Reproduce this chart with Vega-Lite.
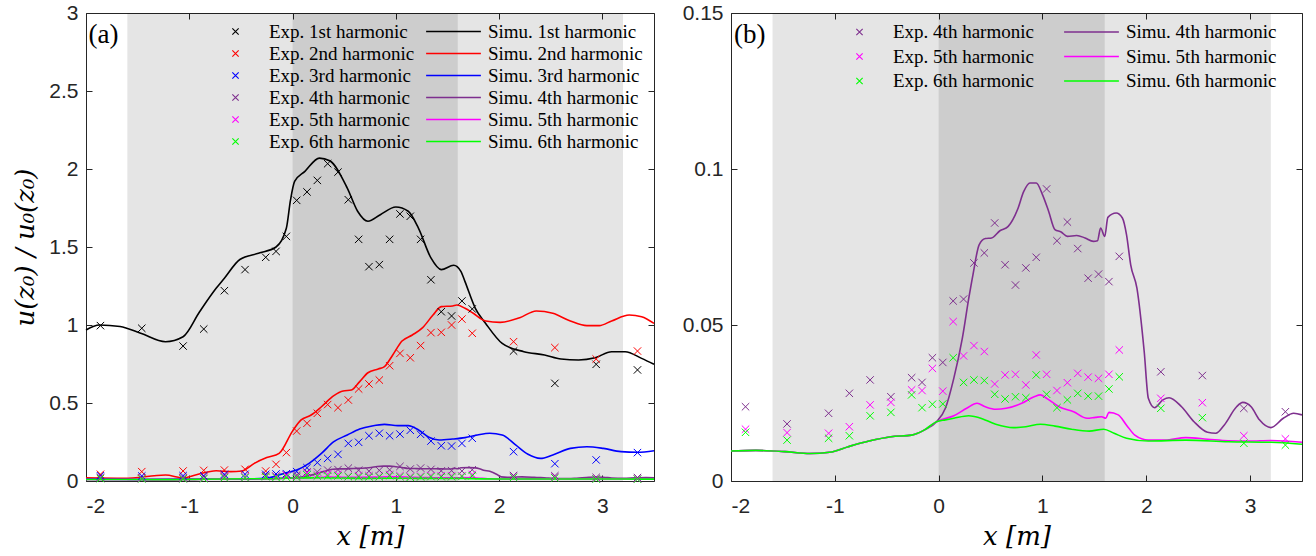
{
"$schema":"https://vega.github.io/schema/vega-lite/v6.json",
"padding":{"left":12,"top":1,"right":5,"bottom":0},
"background":"white",
"spacing":23,
"datasets":{
"exp":[
{"h":"1st","x":-1.86,"y":0.996},{"h":"1st","x":-1.46,"y":0.979},{"h":"1st","x":-1.06,"y":0.865},{"h":"1st","x":-0.86,"y":0.974},{"h":"1st","x":-0.66,"y":1.22},{"h":"1st","x":-0.46,"y":1.355},{"h":"1st","x":-0.26,"y":1.434},{"h":"1st","x":-0.16,"y":1.472},{"h":"1st","x":-0.06,"y":1.568},{"h":"1st","x":0.04,"y":1.799},{"h":"1st","x":0.14,"y":1.853},{"h":"1st","x":0.24,"y":1.927},{"h":"1st","x":0.34,"y":2.034},{"h":"1st","x":0.44,"y":1.98},{"h":"1st","x":0.54,"y":1.803},{"h":"1st","x":0.64,"y":1.549},{"h":"1st","x":0.74,"y":1.374},{"h":"1st","x":0.84,"y":1.387},{"h":"1st","x":0.94,"y":1.549},{"h":"1st","x":1.04,"y":1.712},{"h":"1st","x":1.14,"y":1.697},{"h":"1st","x":1.24,"y":1.549},{"h":"1st","x":1.34,"y":1.29},{"h":"1st","x":1.44,"y":1.085},{"h":"1st","x":1.54,"y":1.058},{"h":"1st","x":1.64,"y":1.154},{"h":"1st","x":1.74,"y":1.103},{"h":"1st","x":2.14,"y":0.833},{"h":"1st","x":2.54,"y":0.626},{"h":"1st","x":2.94,"y":0.748},{"h":"1st","x":3.34,"y":0.712},
{"h":"2nd","x":-1.86,"y":0.043},{"h":"2nd","x":-1.46,"y":0.06},{"h":"2nd","x":-1.06,"y":0.064},{"h":"2nd","x":-0.86,"y":0.068},{"h":"2nd","x":-0.66,"y":0.07},{"h":"2nd","x":-0.46,"y":0.075},{"h":"2nd","x":-0.26,"y":0.064},{"h":"2nd","x":-0.16,"y":0.107},{"h":"2nd","x":-0.06,"y":0.182},{"h":"2nd","x":0.04,"y":0.32},{"h":"2nd","x":0.14,"y":0.37},{"h":"2nd","x":0.24,"y":0.434},{"h":"2nd","x":0.34,"y":0.49},{"h":"2nd","x":0.44,"y":0.47},{"h":"2nd","x":0.54,"y":0.519},{"h":"2nd","x":0.64,"y":0.59},{"h":"2nd","x":0.74,"y":0.622},{"h":"2nd","x":0.84,"y":0.647},{"h":"2nd","x":0.94,"y":0.739},{"h":"2nd","x":1.04,"y":0.818},{"h":"2nd","x":1.14,"y":0.79},{"h":"2nd","x":1.24,"y":0.868},{"h":"2nd","x":1.34,"y":0.951},{"h":"2nd","x":1.44,"y":0.953},{"h":"2nd","x":1.54,"y":1.0},{"h":"2nd","x":1.64,"y":1.038},{"h":"2nd","x":1.74,"y":0.947},{"h":"2nd","x":2.14,"y":0.893},{"h":"2nd","x":2.54,"y":0.855},{"h":"2nd","x":2.94,"y":0.782},{"h":"2nd","x":3.34,"y":0.833},
{"h":"3rd","x":-1.86,"y":0.034},{"h":"3rd","x":-1.46,"y":0.032},{"h":"3rd","x":-1.06,"y":0.034},{"h":"3rd","x":-0.86,"y":0.034},{"h":"3rd","x":-0.66,"y":0.043},{"h":"3rd","x":-0.46,"y":0.043},{"h":"3rd","x":-0.26,"y":0.043},{"h":"3rd","x":-0.16,"y":0.045},{"h":"3rd","x":-0.06,"y":0.047},{"h":"3rd","x":0.04,"y":0.06},{"h":"3rd","x":0.14,"y":0.085},{"h":"3rd","x":0.24,"y":0.118},{"h":"3rd","x":0.34,"y":0.145},{"h":"3rd","x":0.44,"y":0.171},{"h":"3rd","x":0.54,"y":0.241},{"h":"3rd","x":0.64,"y":0.248},{"h":"3rd","x":0.74,"y":0.29},{"h":"3rd","x":0.84,"y":0.306},{"h":"3rd","x":0.94,"y":0.29},{"h":"3rd","x":1.04,"y":0.301},{"h":"3rd","x":1.14,"y":0.325},{"h":"3rd","x":1.24,"y":0.299},{"h":"3rd","x":1.34,"y":0.256},{"h":"3rd","x":1.44,"y":0.226},{"h":"3rd","x":1.54,"y":0.224},{"h":"3rd","x":1.64,"y":0.241},{"h":"3rd","x":1.74,"y":0.274},{"h":"3rd","x":2.14,"y":0.188},{"h":"3rd","x":2.54,"y":0.111},{"h":"3rd","x":2.94,"y":0.135},{"h":"3rd","x":3.34,"y":0.182},
{"h":"4th","x":-1.86,"y":0.0238},{"h":"4th","x":-1.46,"y":0.0183},{"h":"4th","x":-1.06,"y":0.0217},{"h":"4th","x":-0.86,"y":0.0281},{"h":"4th","x":-0.66,"y":0.0324},{"h":"4th","x":-0.46,"y":0.027},{"h":"4th","x":-0.26,"y":0.0331},{"h":"4th","x":-0.16,"y":0.0316},{"h":"4th","x":-0.06,"y":0.0395},{"h":"4th","x":0.04,"y":0.038},{"h":"4th","x":0.14,"y":0.0577},{"h":"4th","x":0.24,"y":0.0583},{"h":"4th","x":0.34,"y":0.0699},{"h":"4th","x":0.44,"y":0.0731},{"h":"4th","x":0.54,"y":0.0827},{"h":"4th","x":0.64,"y":0.0693},{"h":"4th","x":0.74,"y":0.0628},{"h":"4th","x":0.84,"y":0.0683},{"h":"4th","x":0.94,"y":0.0717},{"h":"4th","x":1.04,"y":0.0936},{"h":"4th","x":1.14,"y":0.077},{"h":"4th","x":1.24,"y":0.083},{"h":"4th","x":1.34,"y":0.0745},{"h":"4th","x":1.44,"y":0.065},{"h":"4th","x":1.54,"y":0.0663},{"h":"4th","x":1.64,"y":0.0639},{"h":"4th","x":1.74,"y":0.072},{"h":"4th","x":2.14,"y":0.035},{"h":"4th","x":2.54,"y":0.0338},{"h":"4th","x":2.94,"y":0.0233},{"h":"4th","x":3.34,"y":0.0222},
{"h":"5th","x":-1.86,"y":0.0166},{"h":"5th","x":-1.46,"y":0.0155},{"h":"5th","x":-1.06,"y":0.0153},{"h":"5th","x":-0.86,"y":0.0174},{"h":"5th","x":-0.66,"y":0.0244},{"h":"5th","x":-0.46,"y":0.0252},{"h":"5th","x":-0.26,"y":0.0292},{"h":"5th","x":-0.16,"y":0.029},{"h":"5th","x":-0.06,"y":0.0361},{"h":"5th","x":0.04,"y":0.0288},{"h":"5th","x":0.14,"y":0.0511},{"h":"5th","x":0.24,"y":0.0401},{"h":"5th","x":0.34,"y":0.0434},{"h":"5th","x":0.44,"y":0.0415},{"h":"5th","x":0.54,"y":0.0311},{"h":"5th","x":0.64,"y":0.034},{"h":"5th","x":0.74,"y":0.0342},{"h":"5th","x":0.84,"y":0.0308},{"h":"5th","x":0.94,"y":0.0404},{"h":"5th","x":1.04,"y":0.0342},{"h":"5th","x":1.14,"y":0.029},{"h":"5th","x":1.24,"y":0.0315},{"h":"5th","x":1.34,"y":0.0345},{"h":"5th","x":1.44,"y":0.0333},{"h":"5th","x":1.54,"y":0.0329},{"h":"5th","x":1.64,"y":0.0342},{"h":"5th","x":1.74,"y":0.042},{"h":"5th","x":2.14,"y":0.0265},{"h":"5th","x":2.54,"y":0.0251},{"h":"5th","x":2.94,"y":0.0145},{"h":"5th","x":3.34,"y":0.0135},
{"h":"6th","x":-1.86,"y":0.0156},{"h":"6th","x":-1.46,"y":0.0131},{"h":"6th","x":-1.06,"y":0.0137},{"h":"6th","x":-0.86,"y":0.0145},{"h":"6th","x":-0.66,"y":0.0209},{"h":"6th","x":-0.46,"y":0.022},{"h":"6th","x":-0.26,"y":0.0276},{"h":"6th","x":-0.16,"y":0.0235},{"h":"6th","x":-0.06,"y":0.0246},{"h":"6th","x":0.04,"y":0.0247},{"h":"6th","x":0.14,"y":0.0395},{"h":"6th","x":0.24,"y":0.0316},{"h":"6th","x":0.34,"y":0.0324},{"h":"6th","x":0.44,"y":0.0322},{"h":"6th","x":0.54,"y":0.0278},{"h":"6th","x":0.64,"y":0.0263},{"h":"6th","x":0.74,"y":0.027},{"h":"6th","x":0.84,"y":0.0267},{"h":"6th","x":0.94,"y":0.034},{"h":"6th","x":1.04,"y":0.0278},{"h":"6th","x":1.14,"y":0.0235},{"h":"6th","x":1.24,"y":0.026},{"h":"6th","x":1.34,"y":0.0281},{"h":"6th","x":1.44,"y":0.0272},{"h":"6th","x":1.54,"y":0.0272},{"h":"6th","x":1.64,"y":0.0295},{"h":"6th","x":1.74,"y":0.0334},{"h":"6th","x":2.14,"y":0.0233},{"h":"6th","x":2.54,"y":0.0203},{"h":"6th","x":2.94,"y":0.0121},{"h":"6th","x":3.34,"y":0.0115}
],
"sim":[
{"h":"1st","x":-2,"y":0.968},{"h":"1st","x":-1.87,"y":1.0},{"h":"1st","x":-1.67,"y":0.99},{"h":"1st","x":-1.47,"y":0.947},{"h":"1st","x":-1.23,"y":0.893},{"h":"1st","x":-1.06,"y":0.925},{"h":"1st","x":-0.9,"y":1.085},{"h":"1st","x":-0.74,"y":1.235},{"h":"1st","x":-0.66,"y":1.3},{"h":"1st","x":-0.51,"y":1.42},{"h":"1st","x":-0.33,"y":1.46},{"h":"1st","x":-0.16,"y":1.5},{"h":"1st","x":-0.06,"y":1.62},{"h":"1st","x":-0.02,"y":1.8},{"h":"1st","x":0.02,"y":1.92},{"h":"1st","x":0.12,"y":1.985},{"h":"1st","x":0.26,"y":2.07},{"h":"1st","x":0.36,"y":2.053},{"h":"1st","x":0.53,"y":1.878},{"h":"1st","x":0.63,"y":1.729},{"h":"1st","x":0.73,"y":1.665},{"h":"1st","x":0.85,"y":1.707},{"h":"1st","x":1.0,"y":1.756},{"h":"1st","x":1.12,"y":1.729},{"h":"1st","x":1.22,"y":1.62},{"h":"1st","x":1.34,"y":1.43},{"h":"1st","x":1.44,"y":1.355},{"h":"1st","x":1.56,"y":1.383},{"h":"1st","x":1.63,"y":1.344},{"h":"1st","x":1.67,"y":1.278},{"h":"1st","x":1.77,"y":1.107},{"h":"1st","x":1.87,"y":1.01},{"h":"1st","x":2.03,"y":0.882},{"h":"1st","x":2.24,"y":0.829},{"h":"1st","x":2.44,"y":0.808},{"h":"1st","x":2.6,"y":0.782},{"h":"1st","x":2.77,"y":0.776},{"h":"1st","x":2.93,"y":0.79},{"h":"1st","x":3.09,"y":0.829},{"h":"1st","x":3.22,"y":0.829},{"h":"1st","x":3.38,"y":0.786},{"h":"1st","x":3.5,"y":0.748},
{"h":"2nd","x":-2,"y":0.02},{"h":"2nd","x":-1.63,"y":0.017},{"h":"2nd","x":-1.23,"y":0.038},{"h":"2nd","x":-1.06,"y":0.02},{"h":"2nd","x":-0.94,"y":0.038},{"h":"2nd","x":-0.74,"y":0.066},{"h":"2nd","x":-0.6,"y":0.06},{"h":"2nd","x":-0.49,"y":0.064},{"h":"2nd","x":-0.37,"y":0.113},{"h":"2nd","x":-0.25,"y":0.15},{"h":"2nd","x":-0.13,"y":0.177},{"h":"2nd","x":0.0,"y":0.32},{"h":"2nd","x":0.08,"y":0.39},{"h":"2nd","x":0.18,"y":0.423},{"h":"2nd","x":0.28,"y":0.476},{"h":"2nd","x":0.4,"y":0.547},{"h":"2nd","x":0.49,"y":0.577},{"h":"2nd","x":0.57,"y":0.583},{"h":"2nd","x":0.65,"y":0.637},{"h":"2nd","x":0.73,"y":0.694},{"h":"2nd","x":0.83,"y":0.718},{"h":"2nd","x":0.89,"y":0.733},{"h":"2nd","x":0.97,"y":0.808},{"h":"2nd","x":1.06,"y":0.897},{"h":"2nd","x":1.16,"y":0.936},{"h":"2nd","x":1.26,"y":0.983},{"h":"2nd","x":1.36,"y":1.064},{"h":"2nd","x":1.44,"y":1.118},{"h":"2nd","x":1.55,"y":1.122},{"h":"2nd","x":1.59,"y":1.128},{"h":"2nd","x":1.67,"y":1.107},{"h":"2nd","x":1.75,"y":1.075},{"h":"2nd","x":1.87,"y":1.026},{"h":"2nd","x":2.01,"y":1.017},{"h":"2nd","x":2.2,"y":1.047},{"h":"2nd","x":2.36,"y":1.09},{"h":"2nd","x":2.52,"y":1.075},{"h":"2nd","x":2.69,"y":1.026},{"h":"2nd","x":2.85,"y":0.996},{"h":"2nd","x":2.97,"y":0.996},{"h":"2nd","x":3.09,"y":1.026},{"h":"2nd","x":3.26,"y":1.064},{"h":"2nd","x":3.38,"y":1.053},{"h":"2nd","x":3.5,"y":1.01},
{"h":"3rd","x":-2,"y":0.012},{"h":"3rd","x":-1.5,"y":0.01},{"h":"3rd","x":-1.0,"y":0.012},{"h":"3rd","x":-0.5,"y":0.012},{"h":"3rd","x":-0.26,"y":0.017},{"h":"3rd","x":-0.08,"y":0.049},{"h":"3rd","x":0.04,"y":0.07},{"h":"3rd","x":0.16,"y":0.113},{"h":"3rd","x":0.28,"y":0.177},{"h":"3rd","x":0.4,"y":0.252},{"h":"3rd","x":0.53,"y":0.295},{"h":"3rd","x":0.65,"y":0.333},{"h":"3rd","x":0.77,"y":0.353},{"h":"3rd","x":0.89,"y":0.363},{"h":"3rd","x":1.02,"y":0.355},{"h":"3rd","x":1.12,"y":0.355},{"h":"3rd","x":1.22,"y":0.327},{"h":"3rd","x":1.32,"y":0.28},{"h":"3rd","x":1.42,"y":0.263},{"h":"3rd","x":1.55,"y":0.269},{"h":"3rd","x":1.67,"y":0.278},{"h":"3rd","x":1.79,"y":0.295},{"h":"3rd","x":1.91,"y":0.306},{"h":"3rd","x":2.03,"y":0.295},{"h":"3rd","x":2.16,"y":0.231},{"h":"3rd","x":2.28,"y":0.171},{"h":"3rd","x":2.4,"y":0.145},{"h":"3rd","x":2.52,"y":0.167},{"h":"3rd","x":2.69,"y":0.209},{"h":"3rd","x":2.85,"y":0.22},{"h":"3rd","x":3.01,"y":0.209},{"h":"3rd","x":3.18,"y":0.188},{"h":"3rd","x":3.34,"y":0.184},{"h":"3rd","x":3.5,"y":0.194},
{"h":"4th","x":-2,"y":0.0096},{"h":"4th","x":-1.76,"y":0.0098},{"h":"4th","x":-1.48,"y":0.0094},{"h":"4th","x":-1.24,"y":0.0088},{"h":"4th","x":-1.05,"y":0.0092},{"h":"4th","x":-0.87,"y":0.011},{"h":"4th","x":-0.67,"y":0.0128},{"h":"4th","x":-0.46,"y":0.0142},{"h":"4th","x":-0.26,"y":0.0147},{"h":"4th","x":-0.14,"y":0.0163},{"h":"4th","x":-0.02,"y":0.019},{"h":"4th","x":0.065,"y":0.0233},{"h":"4th","x":0.146,"y":0.0329},{"h":"4th","x":0.228,"y":0.0457},{"h":"4th","x":0.29,"y":0.0585},{"h":"4th","x":0.33,"y":0.066},{"h":"4th","x":0.39,"y":0.0757},{"h":"4th","x":0.45,"y":0.0777},{"h":"4th","x":0.51,"y":0.0779},{"h":"4th","x":0.59,"y":0.0802},{"h":"4th","x":0.67,"y":0.0816},{"h":"4th","x":0.76,"y":0.087},{"h":"4th","x":0.82,"y":0.0928},{"h":"4th","x":0.88,"y":0.0955},{"h":"4th","x":0.94,"y":0.0955},{"h":"4th","x":1.0,"y":0.0918},{"h":"4th","x":1.06,"y":0.0864},{"h":"4th","x":1.12,"y":0.0806},{"h":"4th","x":1.18,"y":0.0798},{"h":"4th","x":1.24,"y":0.0784},{"h":"4th","x":1.33,"y":0.0787},{"h":"4th","x":1.41,"y":0.0779},{"h":"4th","x":1.49,"y":0.0768},{"h":"4th","x":1.53,"y":0.077},{"h":"4th","x":1.56,"y":0.0811},{"h":"4th","x":1.6,"y":0.0784},{"h":"4th","x":1.63,"y":0.0845},{"h":"4th","x":1.71,"y":0.0859},{"h":"4th","x":1.77,"y":0.0843},{"h":"4th","x":1.81,"y":0.0789},{"h":"4th","x":1.85,"y":0.0693},{"h":"4th","x":1.91,"y":0.0618},{"h":"4th","x":1.98,"y":0.0415},{"h":"4th","x":2.02,"y":0.0265},{"h":"4th","x":2.08,"y":0.0235},{"h":"4th","x":2.16,"y":0.026},{"h":"4th","x":2.22,"y":0.0267},{"h":"4th","x":2.34,"y":0.0238},{"h":"4th","x":2.46,"y":0.019},{"h":"4th","x":2.59,"y":0.0156},{"h":"4th","x":2.67,"y":0.0153},{"h":"4th","x":2.75,"y":0.0179},{"h":"4th","x":2.87,"y":0.0238},{"h":"4th","x":2.93,"y":0.0252},{"h":"4th","x":3.01,"y":0.0238},{"h":"4th","x":3.09,"y":0.0196},{"h":"4th","x":3.2,"y":0.0171},{"h":"4th","x":3.32,"y":0.0201},{"h":"4th","x":3.42,"y":0.0217},{"h":"4th","x":3.5,"y":0.0212},
{"h":"5th","x":-2,"y":0.0096},{"h":"5th","x":-1.76,"y":0.0098},{"h":"5th","x":-1.48,"y":0.0094},{"h":"5th","x":-1.24,"y":0.0088},{"h":"5th","x":-1.05,"y":0.0092},{"h":"5th","x":-0.87,"y":0.011},{"h":"5th","x":-0.67,"y":0.0128},{"h":"5th","x":-0.46,"y":0.0142},{"h":"5th","x":-0.26,"y":0.0147},{"h":"5th","x":-0.14,"y":0.0163},{"h":"5th","x":-0.02,"y":0.019},{"h":"5th","x":0.024,"y":0.0196},{"h":"5th","x":0.146,"y":0.0209},{"h":"5th","x":0.27,"y":0.0233},{"h":"5th","x":0.37,"y":0.0249},{"h":"5th","x":0.45,"y":0.0238},{"h":"5th","x":0.55,"y":0.023},{"h":"5th","x":0.65,"y":0.0233},{"h":"5th","x":0.8,"y":0.0249},{"h":"5th","x":0.92,"y":0.027},{"h":"5th","x":0.98,"y":0.0276},{"h":"5th","x":1.04,"y":0.0265},{"h":"5th","x":1.16,"y":0.0238},{"h":"5th","x":1.3,"y":0.0222},{"h":"5th","x":1.43,"y":0.0201},{"h":"5th","x":1.51,"y":0.0204},{"h":"5th","x":1.57,"y":0.0206},{"h":"5th","x":1.61,"y":0.0201},{"h":"5th","x":1.64,"y":0.022},{"h":"5th","x":1.73,"y":0.0212},{"h":"5th","x":1.81,"y":0.0179},{"h":"5th","x":1.89,"y":0.0147},{"h":"5th","x":2.02,"y":0.0131},{"h":"5th","x":2.18,"y":0.0131},{"h":"5th","x":2.38,"y":0.0139},{"h":"5th","x":2.59,"y":0.0134},{"h":"5th","x":2.79,"y":0.0129},{"h":"5th","x":2.99,"y":0.0128},{"h":"5th","x":3.2,"y":0.013},{"h":"5th","x":3.5,"y":0.0124},
{"h":"6th","x":-2,"y":0.0096},{"h":"6th","x":-1.76,"y":0.0098},{"h":"6th","x":-1.48,"y":0.0094},{"h":"6th","x":-1.24,"y":0.0088},{"h":"6th","x":-1.05,"y":0.0092},{"h":"6th","x":-0.87,"y":0.011},{"h":"6th","x":-0.67,"y":0.0128},{"h":"6th","x":-0.46,"y":0.0142},{"h":"6th","x":-0.26,"y":0.0147},{"h":"6th","x":-0.14,"y":0.0163},{"h":"6th","x":-0.02,"y":0.019},{"h":"6th","x":0.065,"y":0.0196},{"h":"6th","x":0.146,"y":0.0201},{"h":"6th","x":0.29,"y":0.0209},{"h":"6th","x":0.39,"y":0.0203},{"h":"6th","x":0.55,"y":0.0182},{"h":"6th","x":0.72,"y":0.0171},{"h":"6th","x":0.84,"y":0.0174},{"h":"6th","x":0.98,"y":0.0182},{"h":"6th","x":1.12,"y":0.0176},{"h":"6th","x":1.28,"y":0.0166},{"h":"6th","x":1.45,"y":0.016},{"h":"6th","x":1.59,"y":0.0166},{"h":"6th","x":1.69,"y":0.0153},{"h":"6th","x":1.81,"y":0.0137},{"h":"6th","x":2.02,"y":0.0128},{"h":"6th","x":2.38,"y":0.0131},{"h":"6th","x":2.79,"y":0.0126},{"h":"6th","x":3.2,"y":0.0124},{"h":"6th","x":3.5,"y":0.0118}
],
"zones":[{"a":-1.6,"b":3.2},{"a":0,"b":1.6}]
},
"hconcat":[
{
"width":568,"height":468,
"layer":[
{"data":{"name":"zones"},"mark":{"type":"rect","color":"black","opacity":0.1},
 "encoding":{"x":{"field":"a","type":"quantitative","scale":{"domain":[-2,3.5],"nice":false,"zero":false},"axis":null},"x2":{"field":"b"}}},
{"data":{"name":"sim"},"mark":{"type":"line","strokeWidth":1.6,"interpolate":"monotone"},
 "encoding":{
  "x":{"field":"x","type":"quantitative","scale":{"domain":[-2,3.5],"nice":false,"zero":false},"axis":{"orient":"top","values":[-2,-1,0,1,2,3],"labels":false,"grid":false,"title":null}},
  "y":{"field":"y","type":"quantitative","scale":{"domain":[0,3],"nice":false},"axis":{"orient":"right","values":[0,0.5,1,1.5,2,2.5,3],"labels":false,"grid":false,"title":null}},
  "stroke":{"field":"h","type":"nominal","scale":{"range":["#000000","#ff0000","#0000ff","#7e2f8e","#ff00ff","#00ff00"]},
   "legend":{"orient":"none","legendX":358,"legendY":9,"title":null,"symbolType":"M-10,0L10,0","symbolSize":30,"symbolStrokeWidth":1.6,"labelOffset":25,"rowPadding":2,"labelExpr":"'Simu. ' + datum.label + ' harmonic'"}}
 }},
{"data":{"name":"exp"},"mark":{"type":"point","shape":"M-1,-1L1,1M-1,1L1,-1","filled":false,"size":55,"strokeWidth":1,"opacity":1},
 "encoding":{
  "x":{"field":"x","type":"quantitative","scale":{"domain":[-2,3.5],"nice":false,"zero":false},"axis":{"values":[-2,-1,0,1,2,3],"labelExpr":"'' + datum.value","title":"x [m]"}},
  "y":{"field":"y","type":"quantitative","scale":{"domain":[0,3],"nice":false},"axis":{"values":[0,0.5,1,1.5,2,2.5,3],"labelExpr":"'' + datum.value","title":"u(z₀) / u₀(z₀)"}},
  "color":{"field":"h","type":"nominal","scale":{"domain":["1st","2nd","3rd","4th","5th","6th"],"range":["#000000","#ff0000","#0000ff","#7e2f8e","#ff00ff","#00ff00"]},
   "legend":{"orient":"none","legendX":140,"legendY":9,"title":null,"symbolType":"M-1,-1L1,1M-1,1L1,-1","symbolSize":40,"symbolStrokeWidth":1.1,"symbolFillColor":"transparent","labelOffset":24,"rowPadding":2,"labelExpr":"'Exp. ' + datum.label + ' harmonic'"}}
 }},
{"data":{"values":[{}]},"mark":{"type":"text","text":"(a)","font":"Liberation Serif","fontSize":27,"align":"left","baseline":"middle","color":"black"},
 "encoding":{"x":{"datum":-1.975,"type":"quantitative","axis":null},"y":{"datum":2.86,"type":"quantitative","axis":null}}}
],
"resolve":{"axis":{"x":"independent","y":"independent"}}
},
{
"width":571,"height":468,
"layer":[
{"data":{"name":"zones"},"mark":{"type":"rect","color":"black","opacity":0.1},
 "encoding":{"x":{"field":"a","type":"quantitative","scale":{"domain":[-2,3.5],"nice":false,"zero":false},"axis":null},"x2":{"field":"b"}}},
{"data":{"name":"sim"},"transform":[{"filter":{"field":"h","oneOf":["4th","5th","6th"]}}],"mark":{"type":"line","strokeWidth":1.6,"interpolate":"monotone"},
 "encoding":{
  "x":{"field":"x","type":"quantitative","scale":{"domain":[-2,3.5],"nice":false,"zero":false},"axis":{"orient":"top","values":[-2,-1,0,1,2,3],"labels":false,"grid":false,"title":null}},
  "y":{"field":"y","type":"quantitative","scale":{"domain":[0,0.15],"nice":false},"axis":{"orient":"right","values":[0,0.05,0.1,0.15],"labels":false,"grid":false,"title":null}},
  "stroke":{"field":"h","type":"nominal","scale":{"range":["#7e2f8e","#ff00ff","#00ff00"]},
   "legend":{"orient":"none","legendX":351,"legendY":9.5,"title":null,"symbolType":"M-10,0L10,0","symbolSize":30,"symbolStrokeWidth":1.6,"labelOffset":25,"rowPadding":4.5,"labelExpr":"'Simu. ' + datum.label + ' harmonic'"}}
 }},
{"data":{"name":"exp"},"transform":[{"filter":{"field":"h","oneOf":["4th","5th","6th"]}}],"mark":{"type":"point","shape":"M-1,-1L1,1M-1,1L1,-1","filled":false,"size":55,"strokeWidth":1,"opacity":1},
 "encoding":{
  "x":{"field":"x","type":"quantitative","scale":{"domain":[-2,3.5],"nice":false,"zero":false},"axis":{"values":[-2,-1,0,1,2,3],"labelExpr":"'' + datum.value","title":"x [m]"}},
  "y":{"field":"y","type":"quantitative","scale":{"domain":[0,0.15],"nice":false},"axis":{"values":[0,0.05,0.1,0.15],"labelExpr":"'' + datum.value","title":null}},
  "color":{"field":"h","type":"nominal","scale":{"domain":["4th","5th","6th"],"range":["#7e2f8e","#ff00ff","#00ff00"]},
   "legend":{"orient":"none","legendX":119,"legendY":9.5,"title":null,"symbolType":"M-1,-1L1,1M-1,1L1,-1","symbolSize":40,"symbolStrokeWidth":1.1,"symbolFillColor":"transparent","labelOffset":24,"rowPadding":4.5,"labelExpr":"'Exp. ' + datum.label + ' harmonic'"}}
 }},
{"data":{"values":[{}]},"mark":{"type":"text","text":"(b)","font":"Liberation Serif","fontSize":27,"align":"left","baseline":"middle","color":"black"},
 "encoding":{"x":{"datum":-1.97,"type":"quantitative","axis":null},"y":{"datum":0.143,"type":"quantitative","axis":null}}}
],
"resolve":{"axis":{"x":"independent","y":"independent"}}
}
],
"resolve":{"scale":{"x":"independent","y":"independent","color":"independent","stroke":"independent"}},
"config":{
 "view":{"stroke":"#262626","strokeWidth":1},
 "axis":{"labelFont":"Liberation Sans","labelFontSize":21,"labelColor":"#262626","titleFont":"DejaVu Serif","titleFontSize":26,"titleFontStyle":"italic","titleFontWeight":"normal","titleColor":"#000000","domain":false,"tickColor":"#262626","tickSize":-6,"gridColor":"#d6d6d6","gridDash":[5,4],"gridWidth":1},
 "axisX":{"labelPadding":20,"titlePadding":7},
 "axisY":{"labelPadding":14,"titlePadding":10},
 "legend":{"labelFont":"Liberation Serif","labelFontSize":19,"labelColor":"#000000","padding":0,"labelLimit":400}
}
}
